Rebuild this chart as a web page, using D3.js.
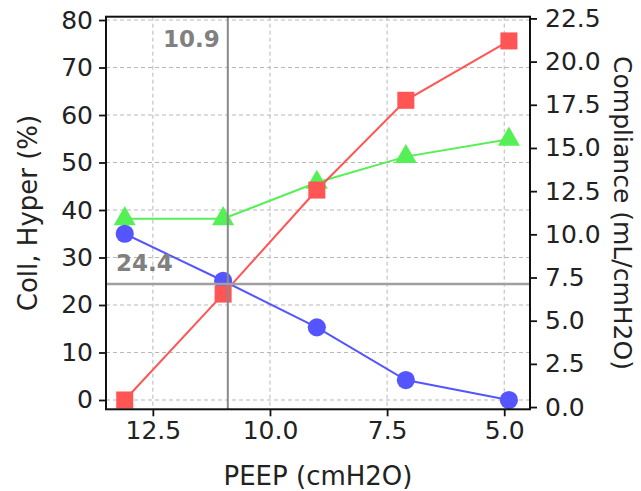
<!DOCTYPE html>
<html><head><meta charset="utf-8">
<script src="https://cdn.jsdelivr.net/npm/d3@7"></script>
<style>html,body{margin:0;padding:0;background:#fff;}svg{display:block;font-family:"DejaVu Sans",sans-serif;}</style>
</head><body>
<script>
const peep = [13.1, 11.0, 9.0, 7.1, 4.9];
const collapse = [35.0, 25.1, 15.3, 4.2, 0.0];
const hyper = [0.0, 22.3, 44.2, 63.1, 75.6];
const compliance = [10.9, 10.9, 13.0, 14.5, 15.5];
const xTicks = [12.5, 10.0, 7.5, 5.0];
const leftTicks = [0, 10, 20, 30, 40, 50, 60, 70, 80];
const rightTicks = [0, 2.5, 5, 7.5, 10, 12.5, 15, 17.5, 20, 22.5];
const optPeep = 10.9;
const optPct = 24.4;

const W = 641, H = 491;
const m = {left: 106, right: 530, top: 16.7, bottom: 409.3};
const svg = d3.select("body").append("svg").attr("width", W).attr("height", H);

const x = d3.scaleLinear().domain([13.5, 4.45]).range([m.left, m.right]);
const yL = d3.scaleLinear().domain([-1.96, 80.7]).range([m.bottom, m.top]);
const yR = d3.scaleLinear().domain([-0.13, 22.6]).range([m.bottom, m.top]);

// grid
const grid = svg.append("g").attr("stroke", "#b8b8b8").attr("stroke-width", 1).attr("stroke-dasharray", "4,3");
grid.selectAll(".gx").data(xTicks).join("line")
  .attr("x1", d => x(d)).attr("x2", d => x(d)).attr("y1", m.top).attr("y2", m.bottom);
grid.selectAll(".gy").data(leftTicks).join("line")
  .attr("x1", m.left).attr("x2", m.right).attr("y1", d => yL(d)).attr("y2", d => yL(d));

// series
function series(vals, scale, color, shape) {
  const g = svg.append("g");
  const line = d3.line().x((d, i) => x(peep[i])).y(d => scale(d));
  g.append("path").datum(vals).attr("d", line).attr("fill", "none").attr("stroke", color).attr("stroke-width", 2);
  const sym = d3.symbol().type(shape.type).size(shape.size);
  g.selectAll("path.mk").data(vals).join("path").attr("class", "mk")
    .attr("d", sym).attr("fill", color)
    .attr("transform", (d, i) => `translate(${x(peep[i])},${scale(d)})`);
}
series(compliance, yR, "#55f055", {type: d3.symbolTriangle, size: 210});
series(collapse, yL, "#5555ff", {type: d3.symbolCircle, size: 260});
series(hyper, yL, "#ff5555", {type: d3.symbolSquare, size: 290});

// reference lines
svg.append("line").attr("x1", x(optPeep)).attr("x2", x(optPeep)).attr("y1", m.top).attr("y2", m.bottom)
  .attr("stroke", "#8a8a8a").attr("stroke-width", 2);
svg.append("line").attr("x1", m.left).attr("x2", m.right).attr("y1", yL(optPct)).attr("y2", yL(optPct))
  .attr("stroke", "#a0a0a0").attr("stroke-width", 2.5);
svg.append("text").attr("x", x(optPeep) - 8).attr("y", 47).attr("text-anchor", "end")
  .attr("font-size", 23).attr("font-weight", "bold").attr("fill", "#808080").text(optPeep.toFixed(1));
svg.append("text").attr("x", m.left + 10).attr("y", yL(optPct) - 13).attr("text-anchor", "start")
  .attr("font-size", 23).attr("font-weight", "bold").attr("fill", "#808080").text(optPct.toFixed(1));

// axes
const fs = 25;
const ax = svg.append("g").attr("transform", `translate(0,${m.bottom})`)
  .call(d3.axisBottom(x).tickValues(xTicks).tickFormat(d3.format(".1f")).tickSize(7).tickPadding(5));
const al = svg.append("g").attr("transform", `translate(${m.left},0)`)
  .call(d3.axisLeft(yL).tickValues(leftTicks).tickFormat(d3.format("d")).tickSize(7).tickPadding(6));
const ar = svg.append("g").attr("transform", `translate(${m.right},0)`)
  .call(d3.axisRight(yR).tickValues(rightTicks).tickFormat(d3.format(".1f")).tickSize(7).tickPadding(8));
[ax, al, ar].forEach(g => {
  g.select(".domain").remove();
  g.selectAll(".tick line").attr("stroke", "#111").attr("stroke-width", 1.8);
  g.selectAll(".tick text").attr("font-size", fs).attr("fill", "#222").attr("font-family", "DejaVu Sans");
});

// frame
svg.append("rect").attr("x", m.left).attr("y", m.top).attr("width", m.right - m.left).attr("height", m.bottom - m.top)
  .attr("fill", "none").attr("stroke", "#111").attr("stroke-width", 2);

// titles
svg.append("text").attr("x", (m.left + m.right) / 2).attr("y", 485).attr("text-anchor", "middle")
  .attr("font-size", 26).attr("fill", "#222").text("PEEP (cmH2O)");
svg.append("text").attr("transform", `translate(37,${(m.top + m.bottom) / 2}) rotate(-90)`).attr("text-anchor", "middle")
  .attr("font-size", 26).attr("fill", "#222").text("Coll, Hyper (%)");
svg.append("text").attr("transform", `translate(614,${(m.top + m.bottom) / 2}) rotate(90)`).attr("text-anchor", "middle")
  .attr("font-size", 25).attr("fill", "#222").text("Compliance (mL/cmH2O)");
</script>
</body></html>
